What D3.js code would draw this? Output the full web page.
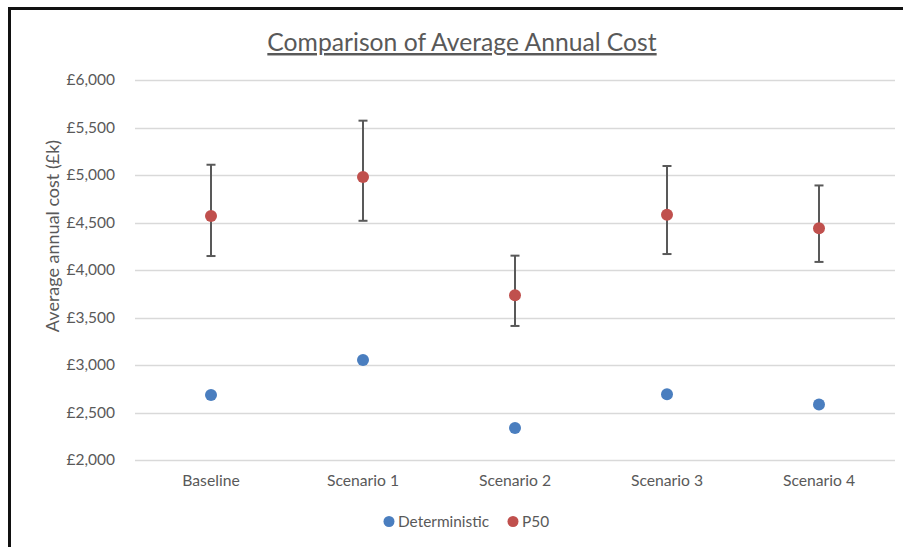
<!DOCTYPE html>
<html>
<head>
<meta charset="utf-8">
<script src="https://cdn.jsdelivr.net/npm/d3@7"></script>
<style>
  html, body { margin: 0; padding: 0; background: #fff; }
  svg { display: block; }
  text { font-family: Lato, "Open Sans", sans-serif; fill: #595959; }
</style>
</head>
<body>
<svg id="chart" width="903" height="547"></svg>
<script>
// ---- data ----
const categories = ["Baseline", "Scenario 1", "Scenario 2", "Scenario 3", "Scenario 4"];
const deterministic = [2685, 3053, 2338, 2692, 2585];
const p50 = [4568, 4980, 3733, 4582, 4440];
const p50Low = [4147, 4518, 3411, 4168, 4085];
const p50High = [5108, 5572, 4151, 5095, 4890];
const yTicks = [2000, 2500, 3000, 3500, 4000, 4500, 5000, 5500, 6000];
const seriesNames = ["Deterministic", "P50"];
const seriesColors = ["#4a7ebf", "#c0504d"];

const svg = d3.select("#chart");

// frame
svg.append("rect").attr("x", 9.5).attr("y", 8.5).attr("width", 1000).attr("height", 1000)
  .attr("fill", "none").attr("stroke", "#111").attr("stroke-width", 3);

const plot = { left: 135, right: 895, top: 80, bottom: 460 };

const x = d3.scaleBand().domain(categories).range([plot.left, plot.right]);
const y = d3.scaleLinear().domain([2000, 6000]).range([plot.bottom, plot.top]);

// gridlines
svg.append("g").selectAll("line").data(yTicks).join("line")
  .attr("x1", plot.left).attr("x2", plot.right)
  .attr("y1", d => Math.round(y(d)) + 0.5).attr("y2", d => Math.round(y(d)) + 0.5)
  .attr("stroke", "#d9d9d9").attr("stroke-width", 1.3);

// y axis labels
const yAxis = d3.axisLeft(y).tickValues(yTicks).tickSize(0).tickPadding(0)
  .tickFormat(d => "£" + d3.format(",")(d));
const gy = svg.append("g").attr("transform", `translate(115,0)`).call(yAxis);
gy.select(".domain").remove();
gy.selectAll("text").style("font-family", "Lato, sans-serif").style("font-size", "15.5px").attr("fill", "#595959");

// x axis labels
const xAxis = d3.axisBottom(x).tickSize(0).tickPadding(0);
const gx = svg.append("g").attr("transform", `translate(0,475)`).call(xAxis);
gx.select(".domain").remove();
gx.selectAll("text").style("font-family", "Lato, sans-serif").style("font-size", "15.7px").attr("fill", "#595959");

// y axis title
svg.append("text").attr("transform", "translate(59,236) rotate(-90)")
  .attr("text-anchor", "middle").style("font-size", "18px")
  .text("Average annual cost (£k)");

// title
svg.append("text").attr("x", 462).attr("y", 51)
  .attr("text-anchor", "middle").style("font-size", "24.7px")
  .style("text-decoration", "underline")
  .text("Comparison of Average Annual Cost");

const cx = d => x(d) + x.bandwidth() / 2;

// error bars
const eb = svg.append("g").attr("stroke", "#595959").attr("stroke-width", 2);
categories.forEach((c, i) => {
  const xc = cx(c);
  eb.append("line").attr("x1", xc).attr("x2", xc).attr("y1", y(p50High[i])).attr("y2", y(p50Low[i]));
  eb.append("line").attr("x1", xc - 4.5).attr("x2", xc + 4.5).attr("y1", y(p50High[i])).attr("y2", y(p50High[i]));
  eb.append("line").attr("x1", xc - 4.5).attr("x2", xc + 4.5).attr("y1", y(p50Low[i])).attr("y2", y(p50Low[i]));
});

// points
svg.append("g").selectAll("circle").data(categories).join("circle")
  .attr("cx", d => cx(d)).attr("cy", (d, i) => y(deterministic[i])).attr("r", 6)
  .attr("fill", seriesColors[0]);
svg.append("g").selectAll("circle").data(categories).join("circle")
  .attr("cx", d => cx(d)).attr("cy", (d, i) => y(p50[i])).attr("r", 6)
  .attr("fill", seriesColors[1]);

// legend
const legendPos = [389, 513];
seriesNames.forEach((n, i) => {
  svg.append("circle").attr("cx", legendPos[i]).attr("cy", 521.5).attr("r", 5.5).attr("fill", seriesColors[i]);
  svg.append("text").attr("x", legendPos[i] + 9).attr("y", 527).style("font-size", "15.4px").text(n);
});
</script>
</body>
</html>
